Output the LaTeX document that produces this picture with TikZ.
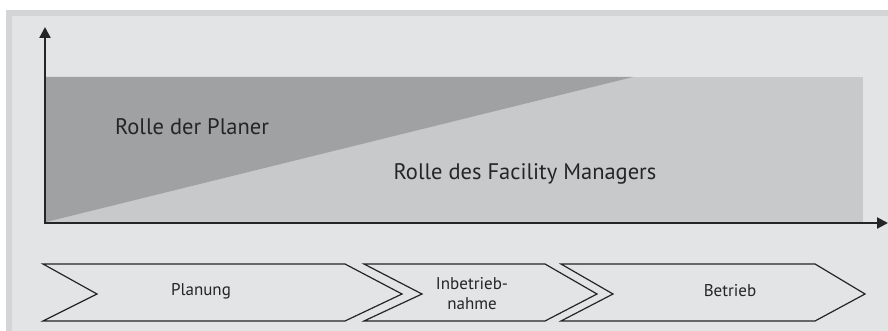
\documentclass[tikz,border=0pt]{standalone}
\usepackage{fontspec}
\setmainfont{PT Sans}
\usetikzlibrary{arrows.meta}
\definecolor{panel}{HTML}{E3E4E6}
\definecolor{panelborder}{HTML}{D4D5D7}
\definecolor{darkrole}{HTML}{9FA1A3}
\definecolor{lightrole}{HTML}{C8C9CB}
\definecolor{ink}{HTML}{252525}
\tikzset{
  axis/.style={draw=ink, line width=2.2pt, -{Triangle[length=11pt,width=11pt]}},
  phase/.style={draw=ink, line width=1.2pt, line join=miter},
  bigtext/.style={font=\fontsize{22.5}{25}\selectfont, text=ink, inner sep=0pt},
  smalltext/.style={font=\fontsize{17}{20}\selectfont, text=ink, inner sep=0pt, align=center},
}
\begin{document}
\begin{tikzpicture}[x=1pt,y=-1pt]
\useasboundingbox (0,0) rectangle (888,331);
\fill[white] (0,0) rectangle (888,331);
\fill[panelborder] (6,10) rectangle (888,331);
\fill[panel] (12,16) rectangle (888,331);
% role areas
\fill[lightrole] (46,77) rectangle (863,222);
\fill[darkrole] (46,222) -- (46,77) -- (633,77) -- cycle;
% axes
\coordinate (O) at (45,223);
\coordinate (ytop) at (45,27);
\coordinate (xend) at (888,223);
\draw[axis] (O) -- (ytop);
\draw[axis] ([xshift=-1.1pt]O) -- (xend);
% labels
\node[bigtext] (planer) at (192,127) {Rolle der Planer};
\node[bigtext] (fm) at (525,174) {Rolle des Facility Managers};
% phases
\draw[phase] (43,264) -- (345,264) -- (402,294) -- (345,321) -- (43,321) -- (97,294) -- cycle;
\draw[phase] (364,264) -- (545,264) -- (597,294) -- (545,321) -- (364,321) -- (422,294) -- cycle;
\draw[phase] (561,264) -- (815,264) -- (865,294) -- (815,321) -- (561,321) -- (613,294) -- cycle;
\node[smalltext] (p1) at (201,291) {Planung};
\node[smalltext] (p2) at (472,294) {Inbetrieb-\\nahme};
\node[smalltext] (p3) at (730,291) {Betrieb};
\end{tikzpicture}
\end{document}
